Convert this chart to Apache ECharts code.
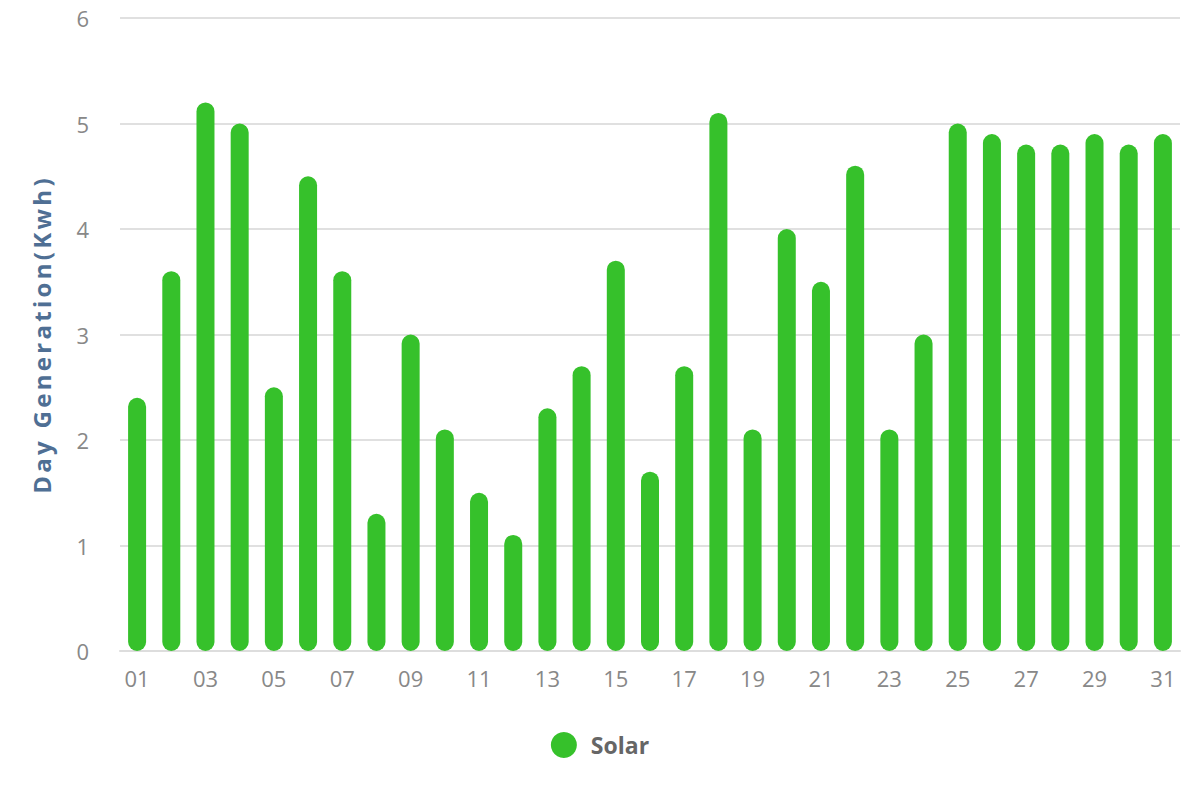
<!DOCTYPE html>
<html>
<head>
<meta charset="utf-8">
<script src="https://cdn.jsdelivr.net/npm/echarts@6/dist/echarts.min.js"></script>
<style>html,body{margin:0;padding:0;background:#fff}#c{width:1200px;height:800px}</style>
</head>
<body>
<div id="c"></div>
<script>
const categories = ['01','02','03','04','05','06','07','08','09','10','11','12','13','14','15','16','17','18','19','20','21','22','23','24','25','26','27','28','29','30','31'];
const solarValues = [2.4,3.6,5.2,5.0,2.5,4.5,3.6,1.3,3.0,2.1,1.5,1.1,2.3,2.7,3.7,1.7,2.7,5.1,2.1,4.0,3.5,4.6,2.1,3.0,5.0,4.9,4.8,4.8,4.9,4.8,4.9];
const seriesName = 'Solar';
const yAxisName = 'Day Generation(Kwh)';

const FONT = '"Open Sans", "DejaVu Sans", sans-serif';
const chart = echarts.init(document.getElementById('c'), null, { renderer: 'svg' });
chart.setOption({
  animation: false,
  grid: { left: 120, right: 20, top: 18, bottom: 149, containLabel: false },
  legend: {
    data: [seriesName],
    top: 727,
    left: 'center',
    icon: 'circle',
    itemWidth: 26,
    itemHeight: 26,
    itemGap: 10,
    textStyle: { fontSize: 23, fontWeight: 'bold', color: '#666', fontFamily: FONT, padding: [0, 0, 0, 9] }
  },
  xAxis: {
    type: 'category',
    data: categories,
    axisLine: { show: true, lineStyle: { color: '#ddd', width: 2 } },
    axisTick: { show: false },
    axisLabel: { interval: 1, fontSize: 22, color: '#888', margin: 16, fontFamily: FONT }
  },
  yAxis: {
    type: 'value',
    min: 0, max: 6, interval: 1,
    name: yAxisName,
    nameLocation: 'middle',
    nameGap: 67,
    nameTextStyle: { fontSize: 24, fontWeight: 'bold', color: '#4f6f94', fontFamily: FONT },
    axisLine: { show: false },
    axisTick: { show: false },
    splitLine: { lineStyle: { color: '#e0e0e0', width: 2 } },
    axisLabel: { fontSize: 22, color: '#888', margin: 31, fontFamily: FONT }
  },
  series: [{
    name: seriesName,
    type: 'bar',
    data: solarValues,
    barWidth: 18,
    itemStyle: { color: '#36c12b', borderRadius: 9 }
  }]
});
// widen the axis title's letter spacing to match the reference
document.querySelectorAll('#c svg text').forEach(function (t) {
  if (t.textContent === yAxisName) { t.style.letterSpacing = '3.3px'; }
});
</script>
</body>
</html>
